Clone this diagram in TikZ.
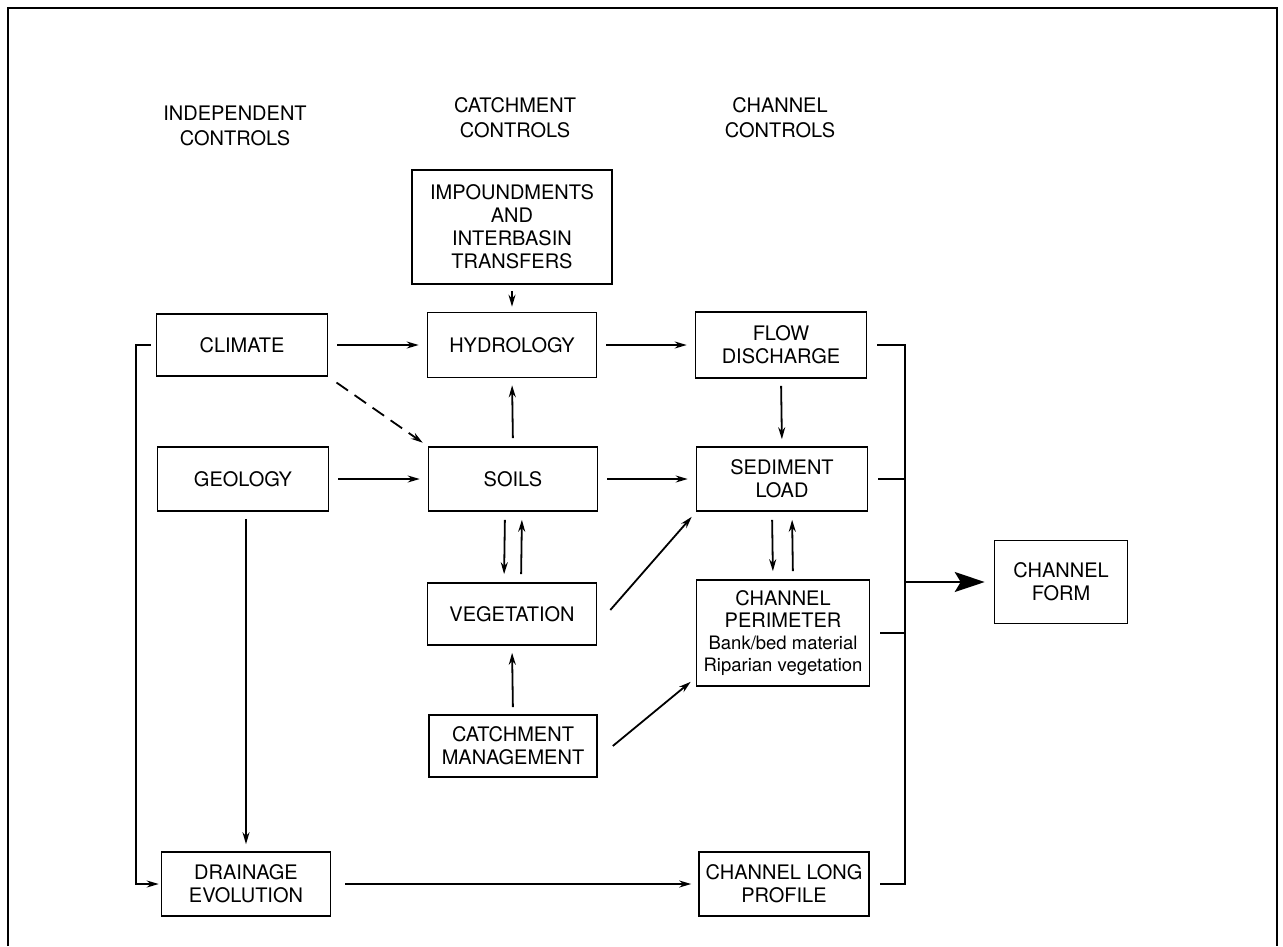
\documentclass[tikz,border=0pt]{standalone}
\usepackage{fontspec}
\setmainfont{TeX Gyre Heros}
\usetikzlibrary{arrows.meta}
\begin{document}
\begin{tikzpicture}[x=1pt,y=-1pt,
  box/.style={draw, line width=1.6pt, inner sep=0pt, align=center,
    font=\fontsize{20}{23}\selectfont},
  hdr/.style={align=center, inner sep=0pt, font=\fontsize{20}{25}\selectfont},
  con/.style={line width=1.8pt},
  arr/.style={con, -{Stealth[length=12pt,width=7pt]}},
  bigarr/.style={con, -{Stealth[length=30pt,width=20pt,inset=6pt]}}]
\useasboundingbox (0,0) rectangle (1283,946);
\draw[line width=1.4pt] (8,946) -- (8,8) -- (1277,8) -- (1277,946);

% headers
\node[hdr] (h1) at (235,126) {INDEPENDENT\\CONTROLS};
\node[hdr] (h2) at (515,118) {CATCHMENT\\CONTROLS};
\node[hdr] (h3) at (780,118) {CHANNEL\\CONTROLS};

% boxes
\node[box, minimum width=200pt, minimum height=114pt] (imp) at (512,227) {IMPOUNDMENTS\\AND\\INTERBASIN\\TRANSFERS};
\node[box, minimum width=171pt, minimum height=62pt] (cli) at (242,345) {CLIMATE};
\node[box, minimum width=169pt, minimum height=65pt] (hyd) at (512,345) {HYDROLOGY};
\node[box, minimum width=171pt, minimum height=66pt] (flow) at (781,345) {FLOW\\DISCHARGE};
\node[box, minimum width=171pt, minimum height=64pt] (geo) at (243,479) {GEOLOGY};
\node[box, minimum width=169pt, minimum height=64pt] (soils) at (513,479) {SOILS};
\node[box, minimum width=171pt, minimum height=64pt] (sed) at (782,479) {SEDIMENT\\LOAD};
\node[box, minimum width=169pt, minimum height=62pt] (veg) at (512,614) {VEGETATION};
\node[box, minimum width=173pt, minimum height=106pt, font=\fontsize{20}{22}\selectfont] (per) at (783,633)
  {CHANNEL\\PERIMETER\\\fontsize{18.5}{22}\selectfont Bank/bed material\\\fontsize{18.5}{22}\selectfont Riparian vegetation};
\node[box, minimum width=168pt, minimum height=62pt] (mgmt) at (513,746) {CATCHMENT\\MANAGEMENT};
\node[box, minimum width=169pt, minimum height=64pt] (drain) at (246,884) {DRAINAGE\\EVOLUTION};
\node[box, minimum width=170pt, minimum height=64pt] (prof) at (784,884) {CHANNEL LONG\\PROFILE};
\node[box, minimum width=133pt, minimum height=83pt] (form) at (1061,582) {CHANNEL\\FORM};

% helper coordinates
\coordinate (fb) at (136,345);
\coordinate (bus) at (905,345);
\coordinate (busmid) at (905,582);

% arrows
\draw[arr, shorten <=9pt, shorten >=8pt] (cli.east) -- (hyd.west);
\draw[arr, shorten <=9pt, shorten >=8pt] (hyd.east) -- (flow.west);
\draw[arr, shorten <=6pt, shorten >=5pt] (imp.south) -- (hyd.north);
\draw[arr, shorten <=8pt, shorten >=7pt] (soils.north) -- (hyd.north |- hyd.south);
\draw[arr, dashed, dash pattern=on 14pt off 8pt, shorten <=10pt, shorten >=6pt] (cli.south east) -- (soils.north west);
\draw[arr, shorten <=9pt, shorten >=8pt] (geo.east) -- (soils.west);
\draw[arr, shorten <=9pt, shorten >=8pt] (soils.east) -- (sed.west);
\draw[arr, shorten <=7pt, shorten >=7pt] (flow.south) -- (sed.north);
\draw[arr, shorten <=8pt, shorten >=8pt] ([xshift=-8pt]soils.south) -- ([xshift=-8pt]veg.north);
\draw[arr, shorten <=8pt, shorten >=8pt] ([xshift=9pt]veg.north) -- ([xshift=9pt]soils.south);
\draw[arr] ([xshift=13pt,yshift=4pt]veg.east) -- ([xshift=-4pt,yshift=-5pt]sed.south west);
\draw[arr, shorten <=8pt, shorten >=8pt] ([xshift=-10pt]sed.south) -- ([xshift=-10pt]per.north);
\draw[arr, shorten <=8pt, shorten >=8pt] ([xshift=10pt]per.north) -- ([xshift=10pt]sed.south);
\draw[arr, shorten <=7pt, shorten >=7pt] (mgmt.north) -- (veg.south);
\draw[arr] ([xshift=15pt]mgmt.east) -- ([xshift=-5pt,yshift=5pt]per.south west);
\draw[arr, shorten <=7pt, shorten >=7pt] (geo.south -| drain.north) -- (drain.north);
\draw[arr, shorten <=14pt, shorten >=7pt] (drain.east) -- (prof.west);
\draw[arr, shorten <=5pt, shorten >=2pt] (cli.west) -- (fb) -- (fb |- drain.west) -- (drain.west);

% bus to channel form
\draw[con, shorten <=10pt] (flow.east) -- (bus) -- (bus |- prof.east) -- ([xshift=10pt]prof.east);
\draw[con, shorten <=10pt] (sed.east) -- (sed.east -| bus);
\draw[con, shorten <=10pt] (per.east) -- (per.east -| bus);
\draw[bigarr, shorten >=9pt] (busmid) -- (form.west);
\end{tikzpicture}
\end{document}
